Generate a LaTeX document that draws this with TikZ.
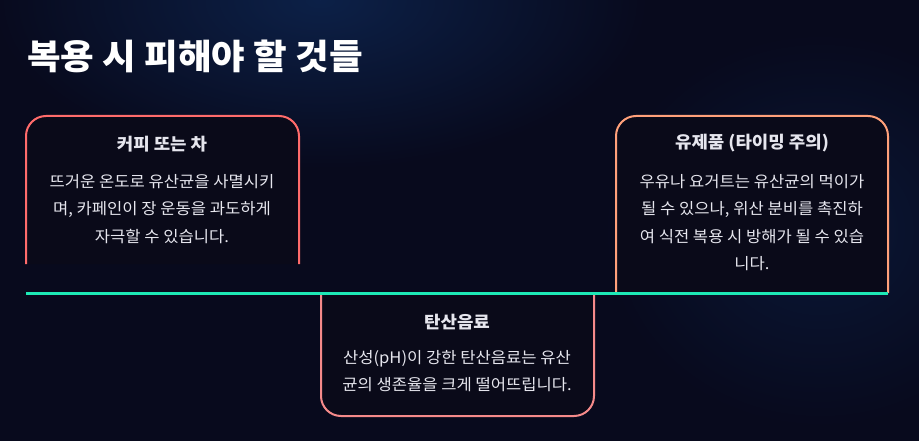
\documentclass[tikz,border=0pt]{standalone}
\usepackage{fontspec}
\setmainfont{Noto Sans CJK KR}[FakeStretch=1.05]
\usetikzlibrary{fadings}
\definecolor{bgnavy}{HTML}{080A1D}
\definecolor{glowblue}{HTML}{0D2148}
\definecolor{boxfill}{HTML}{0A0A19}
\definecolor{coffeeline}{HTML}{FF6B6B}
\definecolor{sodaline}{HTML}{F58A8A}
\definecolor{dairyline}{HTML}{FFA07A}
\definecolor{timegreen}{HTML}{1DE9B6}
\definecolor{cardtext}{HTML}{E6E6EE}
\tikzfading[name=glowfade, inner color=transparent!0, outer color=transparent!100]

\begin{document}
\begin{tikzpicture}[x=1pt, y=-1pt,
    cardbox/.style={line width=2pt, fill=boxfill, rounded corners=20pt},
    cardtitle/.style={font=\fontsize{17}{20}\selectfont\bfseries, text=cardtext, inner sep=0pt},
    cardbody/.style={font=\fontsize{15.8}{27.5}\selectfont, text=cardtext, align=center, anchor=north, inner sep=0pt}]

    % Background
    \useasboundingbox (0,0) rectangle (919,441);
    \fill[bgnavy] (0,0) rectangle (919,441);
    \fill[glowblue, path fading=glowfade] (320,0) ellipse (330 and 170);
    \fill[glowblue, opacity=0.6, path fading=glowfade] (820,230) ellipse (220 and 200);

    % Heading
    \node[anchor=base west, inner sep=0pt, text=white, font=\fontsize{34.8}{40}\selectfont\bfseries] (heading) at (27,70) {복용 시 피해야 할 것들};

    % Card 1 (above the line)
    \path[cardbox, draw=coffeeline] (26,264) |- (299,116) -- (299,264);
    \node[cardtitle] (coffeeTitle) at (162,144) {커피 또는 차};
    \node[cardbody] (coffeeBody) at (162,174) {뜨거운 온도로 유산균을 사멸시키\\며, 카페인이 장 운동을 과도하게\\자극할 수 있습니다.};

    % Card 2 (below the line)
    \path[cardbox, draw=sodaline] (321,293) |- (594,416) -- (594,293);
    \node[cardtitle] (sodaTitle) at (457,322) {탄산음료};
    \node[cardbody] (sodaBody) at (457,350) {산성(pH)이 강한 탄산음료는 유산\\균의 생존율을 크게 떨어뜨립니다.};

    % Card 3 (above the line)
    \path[cardbox, draw=dairyline] (616,293) |- (888,116) -- (888,293);
    \node[cardtitle] (dairyTitle) at (752,143) {유제품 (타이밍 주의)};
    \node[cardbody] (dairyBody) at (752,174) {우유나 요거트는 유산균의 먹이가\\될 수 있으나, 위산 분비를 촉진하\\여 식전 복용 시 방해가 될 수 있습\\니다.};

    % Timeline
    \coordinate (lineStart) at (26,293);
    \coordinate (lineEnd) at (888,293);
    \draw[timegreen, line width=3pt] (lineStart) -- (lineEnd);
\end{tikzpicture}
\end{document}
